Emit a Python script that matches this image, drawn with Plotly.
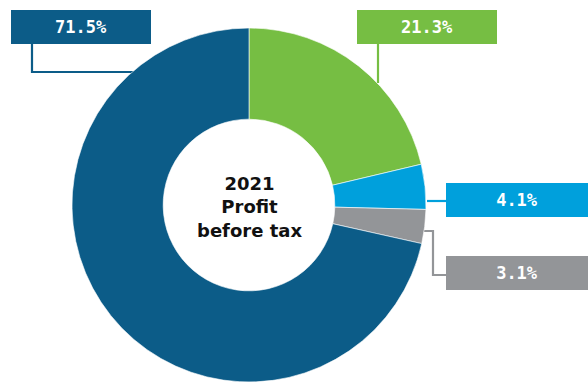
import plotly.graph_objects as go

# Profit before tax breakdown, 2021
segments = ["Segment A", "Segment B", "Segment C", "Segment D"]
shares = [21.3, 4.1, 3.1, 71.5]
colors = ["#76BE43", "#00A0DC", "#939598", "#0C5C88"]
label_text = ["21.3%", "4.1%", "3.1%", "71.5%"]
center_title = ["2021", "Profit", "before tax"]

W, H = 588, 382


def px(x, y):
    """Pixel position (from top-left) to paper coordinates."""
    return x / W, 1 - y / H


fig = go.Figure(
    go.Pie(
        labels=segments,
        values=shares,
        hole=0.485,
        sort=False,
        direction="clockwise",
        rotation=0,
        textinfo="none",
        hoverinfo="label+percent",
        marker=dict(colors=colors, line=dict(color="white", width=0.6)),
        domain=dict(x=[71 / W, 427 / W], y=[0, 354 / H]),
        showlegend=False,
    )
)

# Label boxes: (left, top, right, bottom) in pixels
boxes = [
    (357, 10, 497, 44),
    (446, 183, 588, 217),
    (446, 256, 588, 290),
    (11, 10, 151, 44),
]

# Leader line paths in pixels
leaders = [
    [(378, 44), (378, 83)],
    [(427, 201), (446, 201)],
    [(424, 231), (433, 231), (433, 275), (446, 275)],
    [(32, 44), (32, 72), (134, 72)],
]

annotations = []
shapes = []
for txt, col, (l, t, r, b), pts in zip(label_text, colors, boxes, leaders):
    cx, cy = px((l + r) / 2, (t + b) / 2)
    annotations.append(
        dict(
            x=cx, y=cy, xref="paper", yref="paper",
            xanchor="center", yanchor="middle",
            text=f"<b>{txt}</b>",
            showarrow=False,
            width=r - l, height=b - t,
            bgcolor=col, borderpad=0, borderwidth=0,
            font=dict(family="DejaVu Sans Mono", size=17, color="white"),
        )
    )
    path = ""
    for i, (x, y) in enumerate(pts):
        X, Y = px(x, y)
        path += ("M" if i == 0 else "L") + f"{X},{Y} "
    shapes.append(
        dict(type="path", path=path.strip(), xref="paper", yref="paper",
             line=dict(color=col, width=2.2), layer="below")
    )

cx, cy = px(249, 207)
annotations.append(
    dict(
        x=cx, y=cy, xref="paper", yref="paper",
        xanchor="center", yanchor="middle",
        text="<b>" + "<br>".join(center_title) + "</b>",
        showarrow=False,
        font=dict(family="DejaVu Sans", size=18, color="#111111"),
    )
)

fig.update_layout(
    width=W, height=H,
    margin=dict(l=0, r=0, t=0, b=0),
    paper_bgcolor="white",
    plot_bgcolor="white",
    annotations=annotations,
    shapes=shapes,
)

fig.write_html("out.html")
